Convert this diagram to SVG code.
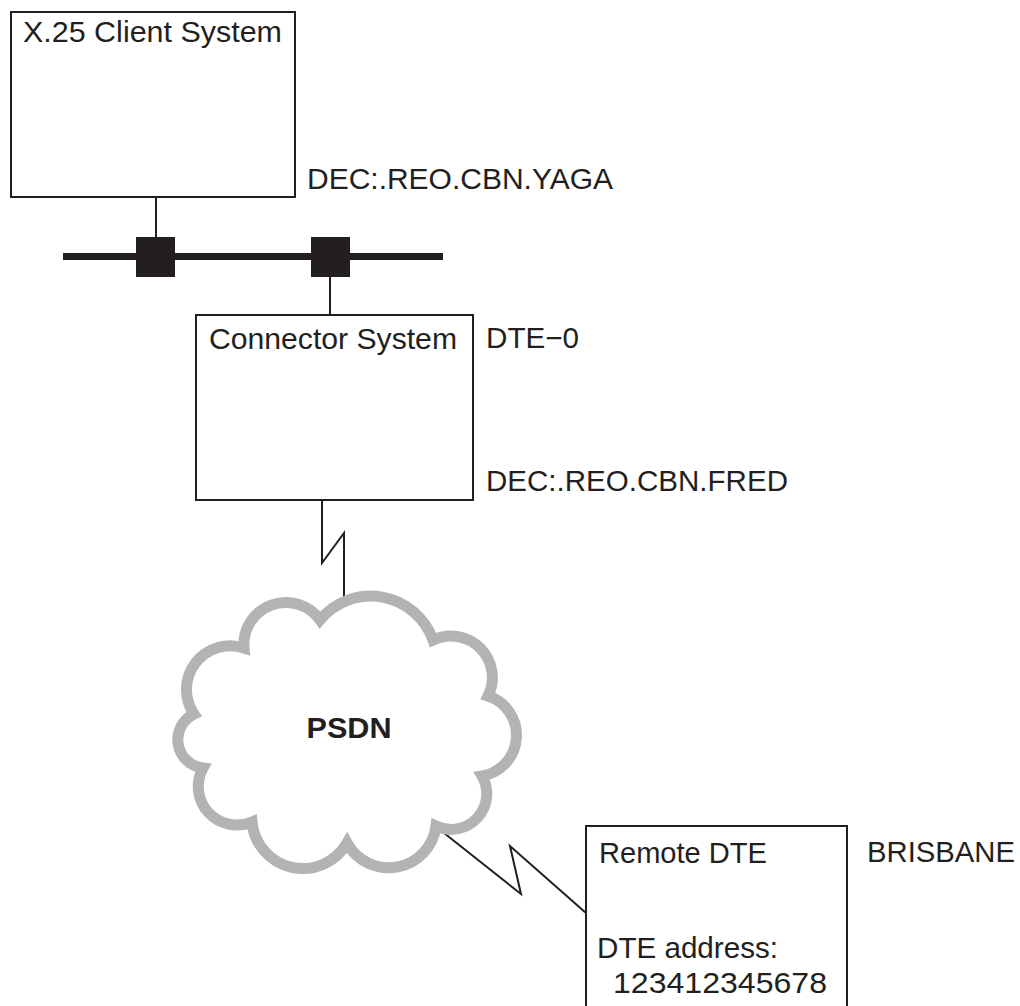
<svg xmlns="http://www.w3.org/2000/svg" width="1020" height="1006" viewBox="0 0 1020 1006">
  <style>
    .box { fill: #ffffff; stroke: #231f20; stroke-width: 2; }
    .line { fill: none; stroke: #231f20; stroke-width: 2; stroke-linejoin: miter; }
    .txt { font-family: "Liberation Sans", Arial, Helvetica, sans-serif; font-size: 29.5px; fill: #231f20; }
    .bold { font-weight: bold; font-size: 30px; }
    .cloud { fill: #ffffff; stroke: #b3b3b3; stroke-width: 11; stroke-linejoin: miter; }
    .tap { fill: #231f20; }
  </style>
  <rect width="1020" height="1006" fill="#ffffff"/>

  <g id="connectors">
    <line class="line" x1="156" y1="197" x2="156" y2="240"/>
    <line class="line" x1="330" y1="275" x2="330" y2="315"/>
    <polyline class="line" points="322,500 322,563 344,533 344,600"/>
    <polyline class="line" points="444,833 521,894 510,846 586,913"/>
  </g>

  <g id="lan">
    <line x1="63" y1="256.5" x2="443" y2="256.5" stroke="#231f20" stroke-width="7"/>
    <rect class="tap" x="136" y="237" width="39" height="40"/>
    <rect class="tap" x="311" y="237" width="39" height="40"/>
  </g>

  <g id="client-system">
    <rect class="box" x="11" y="12" width="284" height="185"/>
    <text class="txt" x="23" y="42" textLength="259" lengthAdjust="spacingAndGlyphs">X.25 Client System</text>
    <text class="txt" x="307" y="189" textLength="306" lengthAdjust="spacingAndGlyphs">DEC:.REO.CBN.YAGA</text>
  </g>

  <g id="connector-system">
    <rect class="box" x="196" y="315" width="277" height="185"/>
    <text class="txt" x="209" y="349" textLength="248" lengthAdjust="spacingAndGlyphs">Connector System</text>
    <text class="txt" x="486" y="348" textLength="93" lengthAdjust="spacingAndGlyphs">DTE−0</text>
    <text class="txt" x="486" y="491" textLength="302" lengthAdjust="spacingAndGlyphs">DEC:.REO.CBN.FRED</text>
  </g>

  <g id="psdn">
    <path class="cloud" d="M244,648 A42,42 0 0 1 320,620 A66,66 0 0 1 433,640 A41.5,41.5 0 0 1 488,696 A41.3,41.3 0 0 1 482,776 A35.6,35.6 0 0 1 436,826 A47.6,47.6 0 0 1 347,843 A51,51 0 0 1 252,822 A38.6,38.6 0 0 1 203,768 A28.5,28.5 0 0 1 194,714 A43.7,43.7 0 0 1 244,648 Z"/>
    <text class="txt bold" x="349" y="738" text-anchor="middle" textLength="85" lengthAdjust="spacingAndGlyphs">PSDN</text>
  </g>

  <g id="remote-dte">
    <path class="box" d="M586,1008 V826 H847 V1008"/>
    <text class="txt" x="599" y="863" textLength="168" lengthAdjust="spacingAndGlyphs">Remote DTE</text>
    <text class="txt" x="867" y="862" textLength="148" lengthAdjust="spacingAndGlyphs">BRISBANE</text>
    <text class="txt" x="597" y="958" textLength="181" lengthAdjust="spacingAndGlyphs">DTE address:</text>
    <text class="txt" x="613" y="993" textLength="214" lengthAdjust="spacingAndGlyphs">123412345678</text>
  </g>
</svg>
